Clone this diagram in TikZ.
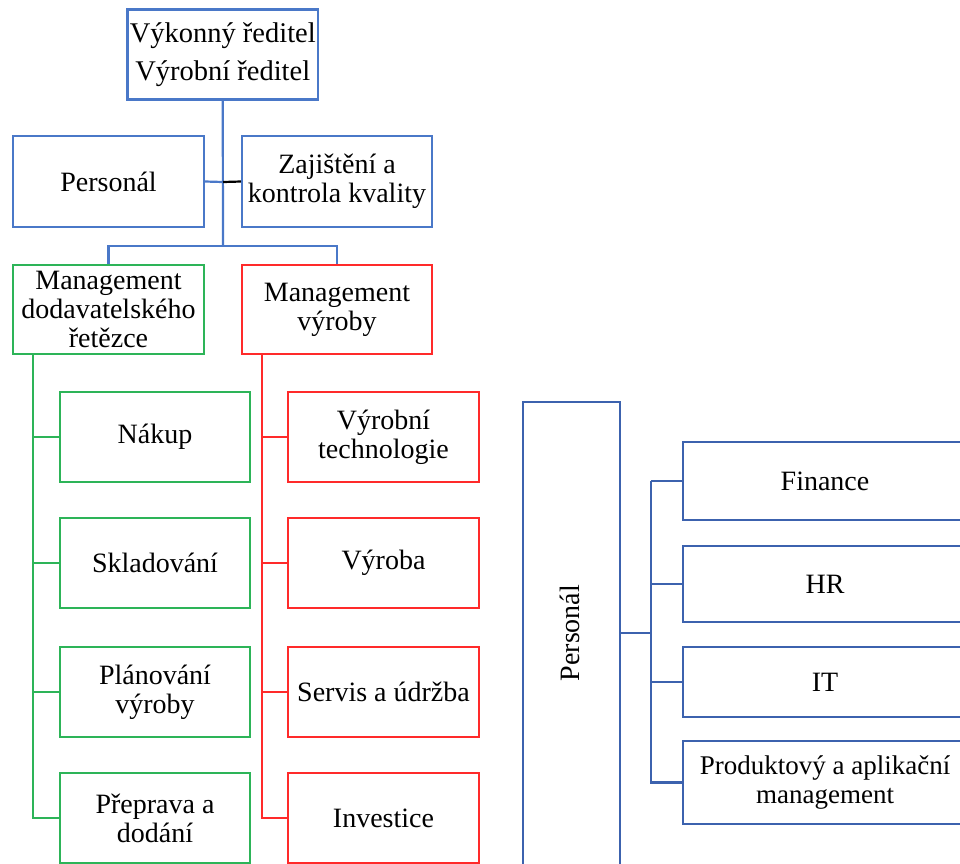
\documentclass[tikz,border=0pt]{standalone}
\usepackage{fontspec}
\setmainfont{Liberation Serif}
\definecolor{cblue}{HTML}{4A78C8}
\definecolor{dblue}{HTML}{3C62AE}
\definecolor{cgreen}{HTML}{2DB458}
\definecolor{cred}{HTML}{FF2A2A}
\begin{document}
\begin{tikzpicture}[x=1pt,y=-1pt,
  box/.style={draw,line width=2.2pt,rectangle,align=center,inner sep=0pt,
     font=\fontsize{28}{29}\selectfont},
  bbox/.style={box,draw=cblue},
  gbox/.style={box,draw=cgreen},
  rbox/.style={box,draw=cred},
  dbox/.style={box,draw=dblue},
  conn/.style={line width=2.2pt}]
\useasboundingbox (0,0) rectangle (960,863);
\clip (0,0) rectangle (960,863);
% top part
\node[bbox,minimum width=190.5pt,minimum height=90pt,font=\fontsize{28.5}{38}\selectfont] (top) at (222.75,54.5) {Výkonný ředitel\\Výrobní ředitel};
\node[bbox,minimum width=191pt,minimum height=91pt] (pers) at (108.5,181.5) {Personál};
\node[bbox,minimum width=190pt,minimum height=91pt] (zaj) at (337,181.5) {Zajištění a\\kontrola kvality};
\node[gbox,minimum width=191pt,minimum height=89pt] (scm) at (108.5,309.5) {Management\\dodavatelského\\řetězce};
\node[rbox,minimum width=190pt,minimum height=89pt] (mv) at (337,309.5) {Management\\výroby};
% green children
\node[gbox,minimum width=190pt,minimum height=90pt] (g1) at (155,437) {Nákup};
\node[gbox,minimum width=190pt,minimum height=90pt] (g2) at (155,563) {Skladování};
\node[gbox,minimum width=190pt,minimum height=90pt] (g3) at (155,692) {Plánování\\výroby};
\node[gbox,minimum width=190pt,minimum height=90pt] (g4) at (155,818) {Přeprava a\\dodání};
% red children
\node[rbox,minimum width=191pt,minimum height=90pt] (r1) at (383.5,437) {Výrobní\\technologie};
\node[rbox,minimum width=191pt,minimum height=90pt] (r2) at (383.5,563) {Výroba};
\node[rbox,minimum width=191pt,minimum height=90pt] (r3) at (383.5,692) {Servis a údržba};
\node[rbox,minimum width=191pt,minimum height=90pt] (r4) at (383.5,818) {Investice};
% right part
\node[dbox,minimum width=97pt,minimum height=480pt] (tall) at (571.5,642) {};
\node[rotate=90,font=\fontsize{28}{29}\selectfont,inner sep=0pt] (tallt) at (570,633) {Personál};
\node[dbox,minimum width=284pt,minimum height=78pt] (p1) at (825,481) {Finance};
\node[dbox,minimum width=284pt,minimum height=76pt] (p2) at (825,584) {HR};
\node[dbox,minimum width=284pt,minimum height=70pt] (p3) at (825,682) {IT};
\node[dbox,minimum width=284pt,minimum height=83pt,font=\fontsize{27}{29}\selectfont] (p4) at (825,782.5) {Produktový a aplikační\\management};
% connectors top
\coordinate (j1) at (223,246);
\coordinate (j2) at (223,182);
\draw[conn,cblue] (top.south) -- (j1);
\draw[conn,cblue] (pers.east) -- (j2);
\draw[conn,black] (j2) -- (zaj.west);
\draw[conn,cblue] (scm.north) |- (j1) -| (mv.north);
% green connectors
\coordinate (gx) at (33,0);
\draw[conn,cgreen] (gx |- scm.south) -- (gx |- g4.west) -- (g4.west);
\draw[conn,cgreen] (gx |- g1.west) -- (g1.west);
\draw[conn,cgreen] (gx |- g2.west) -- (g2.west);
\draw[conn,cgreen] (gx |- g3.west) -- (g3.west);
% red connectors
\coordinate (rx) at (262,0);
\draw[conn,cred] (rx |- mv.south) -- (rx |- r4.west) -- (r4.west);
\draw[conn,cred] (rx |- r1.west) -- (r1.west);
\draw[conn,cred] (rx |- r2.west) -- (r2.west);
\draw[conn,cred] (rx |- r3.west) -- (r3.west);
% right connectors
\coordinate (px) at (651,633);
\draw[conn,dblue] (tall.east |- px) -- (px);
\draw[conn,dblue] (px |- p1.west) -- (px |- p4.west) -- (p4.west);
\draw[conn,dblue] (px |- p1.west) -- (p1.west);
\draw[conn,dblue] (px |- p2.west) -- (p2.west);
\draw[conn,dblue] (px |- p3.west) -- (p3.west);
\end{tikzpicture}
\end{document}
